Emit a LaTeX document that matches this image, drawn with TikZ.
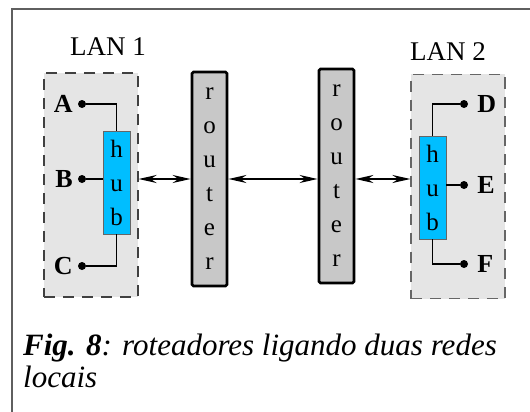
\documentclass[tikz,border=0pt]{standalone}
\usepackage{fontspec}
\setmainfont{Liberation Serif}
\usepackage{xcolor}
\definecolor{hubblue}{RGB}{0,190,255}
\definecolor{langray}{RGB}{229,229,229}
\definecolor{routergray}{RGB}{200,200,200}
\definecolor{framegray}{RGB}{95,95,95}
\usetikzlibrary{positioning,arrows.meta}

\begin{document}
\begin{tikzpicture}[x=1pt,y=-1pt,
	lanbox/.style={draw=black!75,fill=langray,dash pattern=on 11pt off 8pt,line width=1.2pt,minimum width=94pt,minimum height=224pt,inner sep=0pt},
	hubbox/.style={draw=black!60,fill=hubblue,line width=0.8pt,minimum width=27pt,minimum height=103pt,inner sep=0pt,align=center,font=\fontsize{25}{34}\selectfont},
	routerbox/.style={draw=black,fill=routergray,line width=2.8pt,rounded corners=1.5pt,minimum width=35pt,minimum height=214pt,inner sep=0pt,align=center,font=\fontsize{25}{34}\selectfont},
	dot/.style={circle,fill=black,inner sep=0pt,minimum size=8pt},
	hostlbl/.style={font=\fontsize{26}{26}\selectfont\bfseries,inner sep=0pt},
	lanlbl/.style={font=\fontsize{27}{27}\selectfont,inner sep=0pt},
	wire/.style={line width=1.1pt},
	link/.style={{Stealth[length=18pt,width=8pt]}-{Stealth[length=18pt,width=8pt]},line width=1.8pt}]
		\useasboundingbox (0,0) rectangle (530,412);
		\draw[framegray,line width=1.3pt] (530,9) -- (12,9) -- (12,412); %%% FRAME
		
		\node[lanbox] (lan1) at (91,185) {};
		\node[lanbox,draw=black!60] (lan2) at (458,186.5) {};
		\node[lanlbl] (lan1lbl) at (108,47) {LAN 1};
		\node[lanlbl] (lan2lbl) at (448,52) {LAN 2};
		
		\node[hubbox] (hub1) at (116.5,182.5) {h\\u\\b};
		\node[hubbox] (hub2) at (432.5,187.5) {h\\u\\b};
		\node[routerbox] (router1) at (209.5,179) {r\\o\\u\\t\\e\\r};
		\node[routerbox] (router2) at (336.5,176) {r\\o\\u\\t\\e\\r};
		
		%%% LAN 1 HOSTS
		\node[dot] (dA) at (82,104) {};
		\node[dot] (dB) at (82,179) {};
		\node[dot] (dC) at (82,266) {};
		\node[hostlbl,left=5pt of dA] (A) {A};
		\node[hostlbl,left=5pt of dB] (B) {B};
		\node[hostlbl,left=5pt of dC] (C) {C};
		\draw[wire] (dA) -| (hub1.north);
		\draw[wire] (dB) -- (dB -| hub1.west);
		\draw[wire] (dC) -| (hub1.south);
		
		%%% LAN 2 HOSTS
		\node[dot] (dD) at (464,104) {};
		\node[dot] (dE) at (464,185) {};
		\node[dot] (dF) at (464,264) {};
		\node[hostlbl,right=9pt of dD] (D) {D};
		\node[hostlbl,right=9pt of dE] (E) {E};
		\node[hostlbl,right=9pt of dF] (F) {F};
		\draw[wire] (dD) -| (hub2.north);
		\draw[wire] (dE) -- (dE -| hub2.east);
		\draw[wire] (dF) -| (hub2.south);
		
		%%% LINKS
		\draw[link] (router1.west -| lan1.east) -- (router1.west);
		\draw[link] (router1.east) -- (router1.east -| router2.west);
		\draw[link] (router1.east -| router2.east) -- (router1.east -| lan2.west);
		
		\node[anchor=north west,inner sep=0pt,align=left,font=\fontsize{31}{32}\selectfont\itshape] (caption) at (23,334)
		{\textbf{Fig. 8}: roteadores ligando duas redes\\locais};
	\end{tikzpicture}
\end{document}
